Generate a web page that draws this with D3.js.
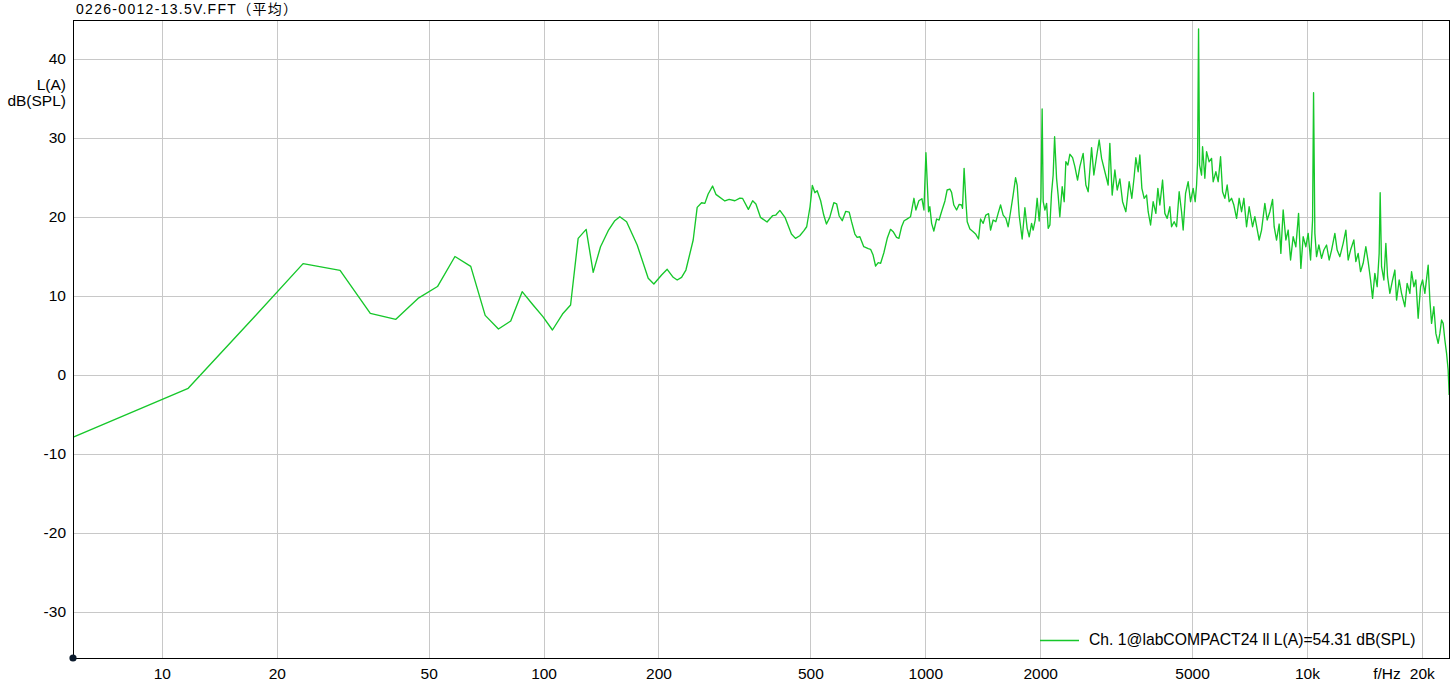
<!DOCTYPE html>
<html><head><meta charset="utf-8">
<script src="https://cdn.jsdelivr.net/npm/d3@7"></script>
<style>
body{margin:0;background:#fff}
svg{display:block}
text{font-family:"Liberation Sans",Arial,"Noto Sans CJK SC",sans-serif;fill:#000}
</style>
</head><body>
<svg id="chart" width="1452" height="692"></svg>
<script>
const chartTitle = "0226-0012-13.5V.FFT（平均）";
const yLabelLines = ["L(A)", "dB(SPL)"];
const xUnitLabel = "f/Hz";
const legendLabel = "Ch. 1@labCOMPACT24 ll L(A)=54.31 dB(SPL)";
const xTickValues = [10, 20, 50, 100, 200, 500, 1000, 2000, 5000, 10000, 20000];
const xTickLabels = ["10", "20", "50", "100", "200", "500", "1000", "2000", "5000", "10k", "20k"];
const yTickValues = [-30, -20, -10, 0, 10, 20, 30, 40];
const yTickLabels = ["-30", "-20", "-10", "0", "10", "20", "30", "40"];
const xDomain = [5.85, 23700];
const yDomain = [-35.82, 44.94];

const freqHz = [
5.86,11.72,17.58,23.44,29.3,35.16,41.02,46.88,52.73,58.59,64.45,70.31,76.17,82.03,87.89,93.75,99.6,105.5,
112.1,117.7,123.2,129.3,134.9,141.0,147.7,153.7,158.4,165.0,175.9,188.0,194.5,203.8,210.8,218.6,223.9,229.9,236.0,246.6,252.6,259.4,264.6,269.9,277.2,282.8,298.5,306.4,317.1,326.8,
332,344,353,360,370,385,398,406,416,429,446,457,469,481,489,499,506,514,521,532,542,551,562,576,586,595,606,619,632,641,654,663,674,690,709,719,730,741,753,764,779,795,811,824,841,853,867,880,893,915,934,945,962,980,992,1004,1020,
1028,1039,1053,1071,1087,1103,1126,1141,1160,1172,1188,1208,1227,1245,1252,1264,1278,1288,1309,1335,1357,1379,1396,1418,1441,1465,1483,1506,1531,1552,1575,1600,1626,1649,1673,1699,1724,1741,1762,1794,1824,1849,1872,1899,1917,1941,1964,1988,2009,2024,2037,2058,2079,2099,2121,2142,2163,2182,2208,2229,2252,2284,2312,2335,2364,2392,2432,2466,2506,2541,
2592,2635,2672,2727,2765,2810,2855,2897,2955,3014,3045,3088,3139,3183,3235,3288,3354,3421,3477,3526,3562,3612,3649,3694,3746,3800,3837,3893,3954,4019,4068,4117,4185,4243,4303,4373,4418,4488,4554,4626,4693,4739,4808,4884,4955,5033,5095,5138,5169,5200,5232,5295,5327,5401,5457,5543,5624,5679,5772,5853,5938,6010,6094,6179,6254,6345,6434,6540,6643,6740,6834,6946,7056,
7202,7303,7495,7604,7757,7866,7995,8126,8205,8324,8456,8543,8663,8805,8928,9058,9201,9352,9506,9639,9773,9934,10073,10220,10344,10406,10488,10596,10744,10920,11073,11255,11433,11600,11833,11998,12195,12441,12645,12822,13009,13270,13431,13619,13817,14036,14266,14466,14677,14855,15062,15273,15458,15552,15684,15903,16096,16262,16489,16760,16994,17169,17440,17694,18050,18302,18603,18795,19058,19289,19558,19844,20085,20366,20776,20990,21206,21502,21763,22067,22294,22524,22743,22977,23214,23439,23581
];
const levelDb = [
-7.85,-1.68,7.5,14.1,13.25,7.8,7.05,9.7,11.2,15.0,13.76,7.55,5.82,6.84,10.55,8.9,7.4,5.7,
7.72,8.86,17.3,18.44,13.0,16.24,18.27,19.53,20.04,19.4,16.46,12.24,11.52,12.66,13.38,12.37,12.03,12.37,13.29,17.09,21.22,21.81,21.73,22.91,23.92,22.87,22.03,22.24,22.06,22.4,
22.37,20.97,22.06,21.65,19.96,19.37,20.17,20.25,20.84,19.96,17.85,17.3,17.63,18.27,18.77,21.3,24.0,23.08,23.33,22.06,20.25,19.11,19.96,21.81,21.65,20.13,19.53,20.72,20.63,19.41,17.85,17.43,17.5,16.24,15.99,15.91,15.19,13.8,14.22,14.14,15.48,17.3,18.44,18.14,17.43,17.3,18.77,19.53,19.71,20.04,22.37,20.89,22.06,22.32,20.89,28.14,20.67,
21.3,19.2,18.23,19.75,19.62,20.67,22.03,23.42,23.54,23.12,21.52,20.89,21.6,21.52,21.1,26.16,21.94,19.41,18.48,18.14,17.81,17.22,19.75,19.2,20.25,20.42,18.35,19.62,19.41,20.46,21.52,20.25,19.83,18.77,20.67,22.78,24.97,24.05,20.25,17.22,21.18,18.57,17.5,19.2,18.35,19.62,22.37,19.49,22.37,33.67,21.94,20.89,21.73,18.57,19.0,23.0,25.32,30.17,24.9,22.78,20.04,23.84,21.94,27.0,26.58,27.94,27.51,26.37,24.68,26.37,
28.06,24.05,23.2,28.78,25.32,27.63,29.75,27.42,25.73,24.05,29.33,22.78,25.95,23.42,24.81,21.94,20.67,24.47,22.37,25.1,27.51,25.73,27.85,23.63,22.37,22.78,20.67,18.99,21.94,20.46,23.63,21.52,24.68,20.46,19.83,21.3,18.77,19.41,18.77,23.2,20.67,18.35,23.0,24.47,21.94,23.63,21.94,24.05,27.0,43.8,26.58,25.32,28.9,24.9,28.27,27.0,27.42,24.47,25.73,24.47,27.63,23.2,22.37,24.05,21.94,22.37,21.52,19.83,22.37,20.67,22.37,18.77,21.3,
18.77,20.04,17.09,18.35,21.73,19.62,20.67,22.24,18.77,17.09,19.11,15.4,20.89,17.09,18.35,14.56,17.5,16.24,20.46,13.5,17.5,16.24,17.93,14.56,19.62,35.73,17.93,14.98,16.46,14.77,15.82,16.46,14.56,15.82,17.93,15.82,14.98,16.67,18.35,14.56,15.82,17.09,14.35,15.4,13.08,14.14,16.24,14.35,12.03,9.71,12.87,11.18,15.4,23.08,13.71,12.03,16.67,12.45,10.34,12.03,13.29,9.49,12.03,10.34,8.65,11.6,10.34,13.08,11.18,12.03,7.18,11.18,12.03,10.34,13.92,9.49,6.54,8.65,5.27,4.01,5.27,6.96,6.54,4.43,2.75,0.63,-2.53
];

const plot = {left: 73, right: 1450, top: 20, bottom: 658};
const svg = d3.select("#chart");

const x = d3.scaleLog().domain(xDomain).range([plot.left, plot.right]);
const y = d3.scaleLinear().domain(yDomain).range([plot.bottom, plot.top]);

// grid
const grid = svg.append("g").attr("shape-rendering", "crispEdges");
grid.selectAll("line.v").data(xTickValues).join("line")
  .attr("x1", d => Math.round(x(d)) + 0.5).attr("x2", d => Math.round(x(d)) + 0.5)
  .attr("y1", plot.top).attr("y2", plot.bottom)
  .attr("stroke", "#c8c8c8").attr("stroke-width", 1);
grid.selectAll("line.h").data(yTickValues).join("line")
  .attr("y1", d => Math.round(y(d)) + 0.5).attr("y2", d => Math.round(y(d)) + 0.5)
  .attr("x1", plot.left).attr("x2", plot.right)
  .attr("stroke", "#c8c8c8").attr("stroke-width", 1);

// data line
svg.append("clipPath").attr("id", "clip").append("rect")
  .attr("x", plot.left).attr("y", plot.top)
  .attr("width", plot.right - plot.left).attr("height", plot.bottom - plot.top);
const data = freqHz.map((f, i) => ({f, v: levelDb[i]}));
svg.append("path").datum(data)
  .attr("clip-path", "url(#clip)")
  .attr("fill", "none").attr("stroke", "#16c72a").attr("stroke-width", 1.35)
  .attr("stroke-linejoin", "round")
  .attr("d", d3.line().x(d => x(d.f)).y(d => y(d.v)));

// frame
svg.append("rect").attr("x", plot.left + 0.5).attr("y", plot.top + 0.5)
  .attr("width", plot.right - plot.left - 1).attr("height", plot.bottom - plot.top)
  .attr("fill", "none").attr("stroke", "#000").attr("stroke-width", 1.2)
  .attr("shape-rendering", "crispEdges");

// axes
const fs = "15.5px";
const yAxis = svg.append("g").attr("transform", `translate(${plot.left},0)`)
  .call(d3.axisLeft(y).tickValues(yTickValues).tickSize(0).tickPadding(7)
    .tickFormat((d, i) => yTickLabels[i]));
yAxis.select(".domain").remove();
yAxis.selectAll("text").style("font-size", fs).attr("fill", "#000");

const xAxis = svg.append("g").attr("transform", `translate(0,${plot.bottom})`)
  .call(d3.axisBottom(x).tickValues(xTickValues).tickSize(0).tickPadding(10)
    .tickFormat((d, i) => xTickLabels[i]));
xAxis.select(".domain").remove();
xAxis.selectAll("text").style("font-size", fs).attr("fill", "#000");

svg.append("text").attr("x", 1387).attr("y", plot.bottom + 10).attr("dy", "0.71em")
  .attr("text-anchor", "middle").style("font-size", fs).text(xUnitLabel);

// y label
svg.append("g").selectAll("text").data(yLabelLines).join("text")
  .attr("x", 66).attr("y", (d, i) => 90 + i * 16)
  .attr("text-anchor", "end").style("font-size", fs).text(d => d);

// title
svg.append("text").attr("x", 76).attr("y", 13.5).style("font-size", "14px")
  .style("letter-spacing", "1.3px").text(chartTitle);

// legend
svg.append("line").attr("x1", 1040).attr("x2", 1079).attr("y1", 640.5).attr("y2", 640.5)
  .attr("stroke", "#16c72a").attr("stroke-width", 1.3);
svg.append("text").attr("x", 1089).attr("y", 640).attr("dy", "0.35em")
  .style("font-size", "15.7px").text(legendLabel);

// origin dot
svg.append("circle").attr("cx", x(xDomain[0])).attr("cy", y(yDomain[0])).attr("r", 3.6)
  .attr("fill", "#0b1a2c");
</script>
</body></html>
